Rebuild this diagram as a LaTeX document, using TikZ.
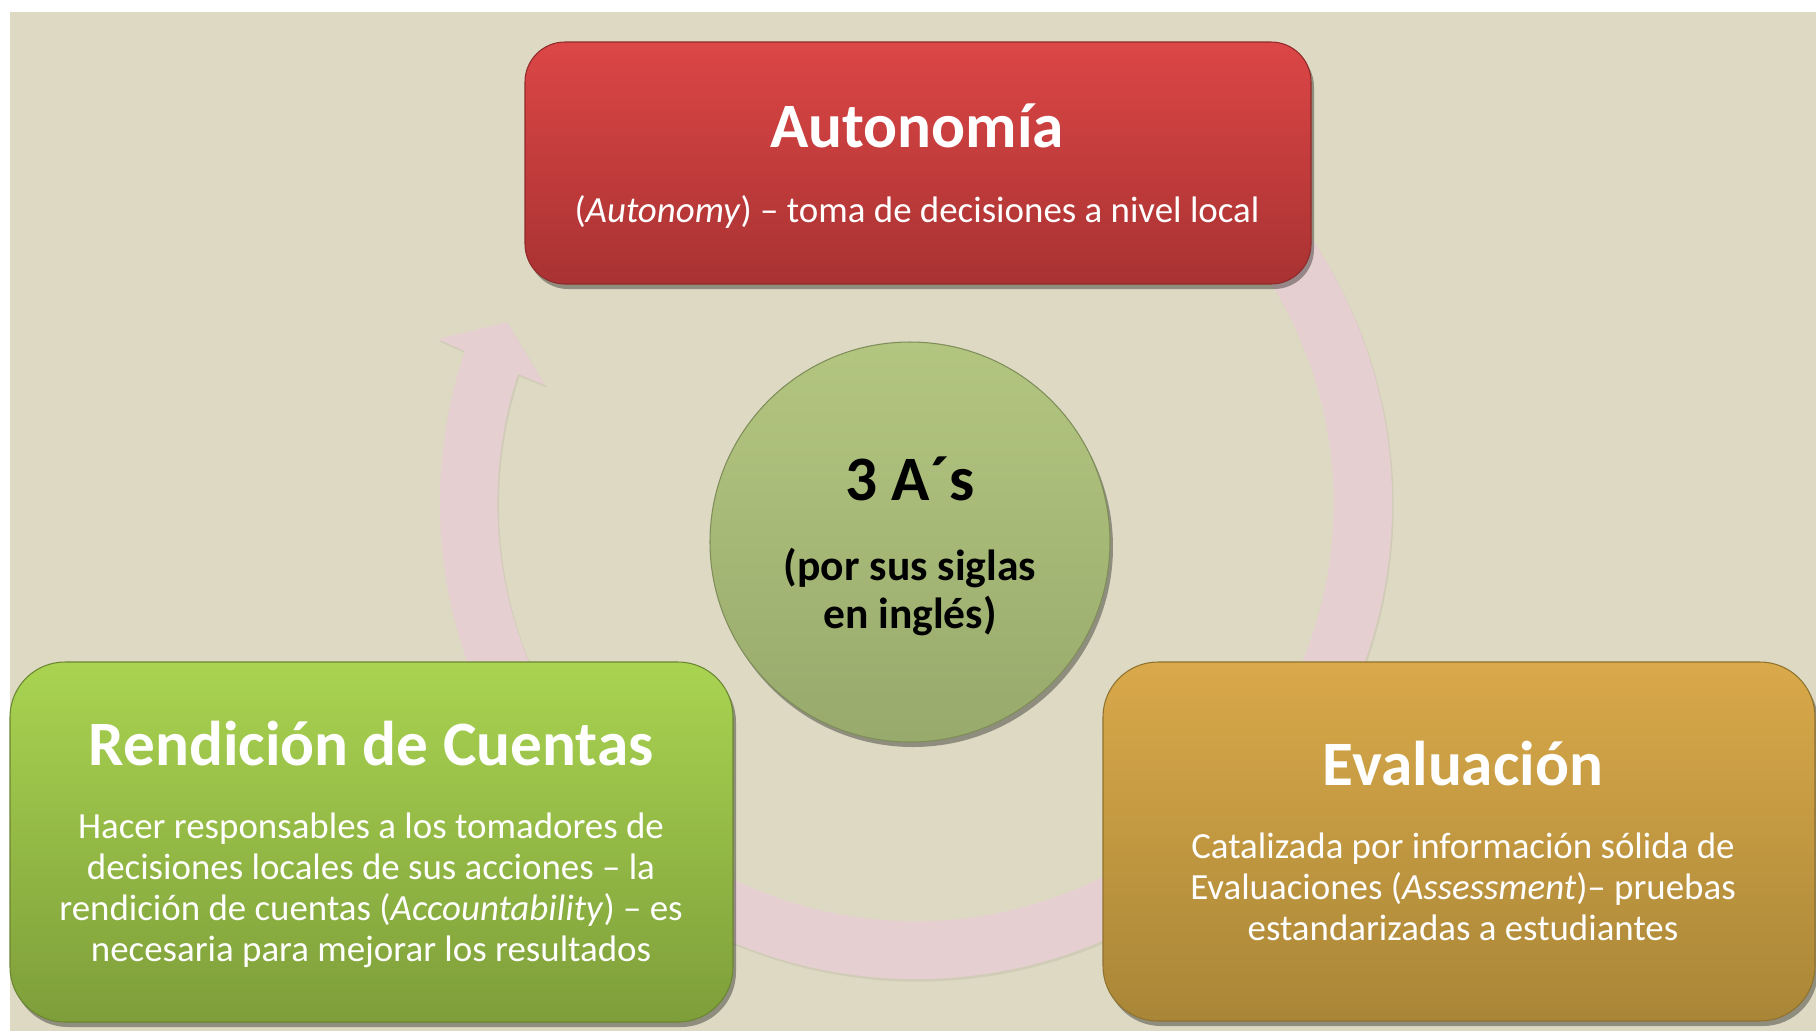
\documentclass[tikz,border=0pt]{standalone}
\usepackage{fontspec}
\setmainfont{Carlito}
\usetikzlibrary{shadows,fit,calc}
\definecolor{bg}{HTML}{DDD9C3}
\definecolor{ringc}{HTML}{E6CFD0}
\definecolor{redtop}{HTML}{DC4646}
\definecolor{redbot}{HTML}{A93232}
\definecolor{grntop}{HTML}{A9D451}
\definecolor{grnbot}{HTML}{7E9E3A}
\definecolor{goldtop}{HTML}{D9A94A}
\definecolor{goldbot}{HTML}{A98637}
\definecolor{ctop}{HTML}{B3C680}
\definecolor{cbot}{HTML}{98AA6C}
\definecolor{cedge}{HTML}{7F8D5A}
\begin{document}
\begin{tikzpicture}[x=0.1mm, y=-0.1mm,
  softshadow/.style={drop shadow={shadow xshift=0.3mm, shadow yshift=-0.5mm, opacity=0.35, fill=black}},
  card/.style={inner sep=0pt, rounded corners=#1, softshadow},
  titletxt/.style={text=white, font=\fontsize{18}{21}\selectfont\bfseries, inner sep=0pt, anchor=base},
  bodytxt/.style={text=white, font=\fontsize{10.5}{11.66}\selectfont, align=center, inner sep=0pt, anchor=base},
  coretxt/.style={text=black, inner sep=0pt, anchor=base, align=center}
]
\useasboundingbox (0,0) rectangle (1816,1034);
\fill[white] (0,0) rectangle (1816,1034);
\fill[bg] (10,12) rectangle (1816,1031);

% cycle arrow
\coordinate (ringc) at (916,503);
\coordinate (wingL) at (438,339);
\coordinate (tip) at (507,322);
\coordinate (wingR) at (545,385);
\coordinate (joinR) at (518,374);
\fill[ringc, drop shadow={shadow xshift=0.15mm, shadow yshift=-0.25mm, opacity=0.06, fill=black}]
  ($(ringc)+(-70:476)$) arc[start angle=-70, end angle=198.6, radius=476]
  -- (wingL) -- (tip) -- (wingR) -- (joinR)
  arc[start angle=198, end angle=-70, radius=418] -- cycle;

% central circle
\node[circle, minimum size=40mm, inner sep=0pt, top color=ctop, bottom color=cbot,
      draw=cedge, line width=0.3pt, softshadow] (core) at (910,542) {};
\node[coretxt, font=\fontsize{18}{21}\selectfont\bfseries] (coreT) at (910,500) {3 A´s};
\node[coretxt, font=\fontsize{12.4}{13.4}\selectfont\bfseries] (coreB) at (910,628) {(por sus siglas\\en inglés)};

% boxes
\node[card=4mm, top color=redtop, bottom color=redbot, draw=redbot!85!black, line width=0.3pt,
      fit={(525,42) (1311,284)}] (auto) {};
\node[card=5.5mm, top color=grntop, bottom color=grnbot, draw=grnbot!85!black, line width=0.3pt,
      fit={(10,662) (733,1022)}] (rend) {};
\node[card=5.5mm, top color=goldtop, bottom color=goldbot, draw=goldbot!85!black, line width=0.3pt,
      fit={(1103,662) (1815,1021)}] (eval) {};

\node[titletxt] (autoT) at (917,147) {Autonomía};
\node[bodytxt] (autoB) at (917,222) {(\textit{Autonomy}) – toma de decisiones a nivel local};

\node[titletxt] (rendT) at (371,765) {Rendición de Cuentas};
\node[bodytxt] (rendB) at (371,961) {Hacer responsables a los tomadores de\\decisiones locales de sus acciones – la\\rendición de cuentas (\textit{Accountability}) – es\\necesaria para mejorar los resultados};

\node[titletxt] (evalT) at (1463,785) {Evaluación};
\node[bodytxt] (evalB) at (1463,940) {Catalizada por información sólida de\\Evaluaciones (\textit{Assessment})– pruebas\\estandarizadas a estudiantes};
\end{tikzpicture}
\end{document}
